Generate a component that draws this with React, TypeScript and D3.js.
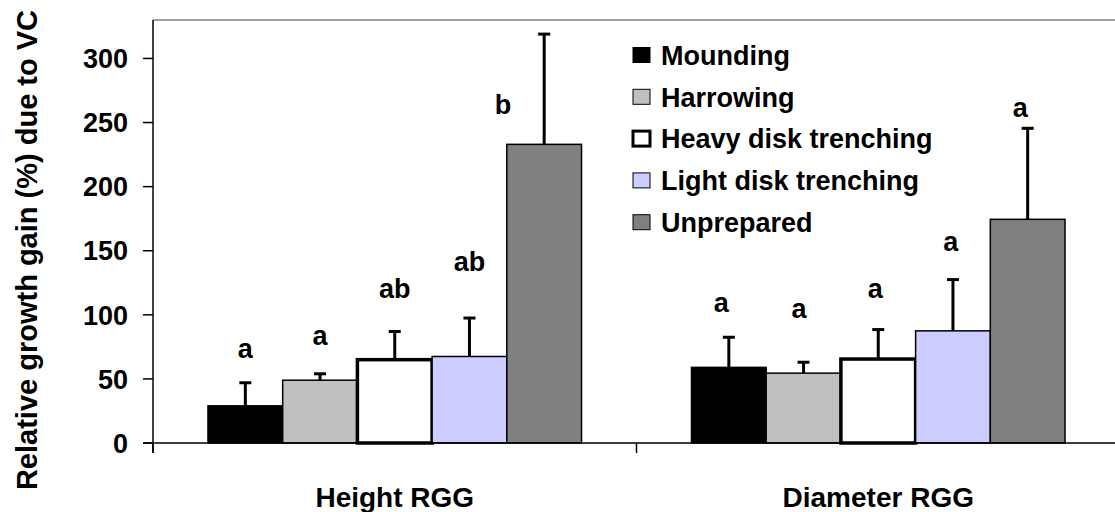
import { useEffect, useRef } from "react";
import { select, scaleBand, scaleLinear } from "d3";

const categories = ["Height RGG", "Diameter RGG"];
const treatments = [
  "Mounding",
  "Harrowing",
  "Heavy disk trenching",
  "Light disk trenching",
  "Unprepared",
];
const heightMeans = [29, 49, 65, 67.5, 233];
const heightErr = [18, 5, 22, 30, 86];
const diameterMeans = [59, 54.5, 65.5, 87.5, 174.5];
const diameterErr = [23.5, 8.5, 23, 40, 71];
const heightLetters = ["a", "a", "ab", "ab", "b"];
const diameterLetters = ["a", "a", "a", "a", "a"];
// value level where each letter sits
const heightLetterAt = [74, 84, 121, 142, 264];
const diameterLetterAt = [110, 105, 121, 157, 262];
const yTicks = [0, 50, 100, 150, 200, 250, 300];

const fills = ["#000000", "#C0C0C0", "#FFFFFF", "#CCCCFF", "#808080"];
const strokeW = [1.5, 1.5, 3.5, 1.5, 1.5];

const FONT = "'Liberation Sans', Arial, sans-serif";

const draw = (ref: SVGSVGElement) => {
  const W = 1115,
    H = 512;
  const m = { l: 153, t: 20, r: 1120, b: 443 };
  const svg = select(ref);
  svg.selectAll("*").remove();
  svg.attr("width", W).attr("height", H).style("font-family", FONT);

  const y = scaleLinear().domain([0, 330]).range([m.b, m.t]);
  const x0 = scaleBand().domain(categories).range([m.l, m.r]).paddingInner(0);
  const x1 = scaleBand()
    .domain(treatments)
    .range([0, x0.bandwidth()])
    .paddingInner(0)
    .paddingOuter(0.736);

  const groups = [
    { cat: categories[0], means: heightMeans, err: heightErr, letters: heightLetters, at: heightLetterAt, shift: [0, 0, 0, 0, -0.55] },
    { cat: categories[1], means: diameterMeans, err: diameterErr, letters: diameterLetters, at: diameterLetterAt, shift: [-0.1, -0.06, -0.04, -0.03, -0.1] },
  ];

  // plot frame (top edge grey)
  svg
    .append("line")
    .attr("x1", m.l)
    .attr("x2", m.r)
    .attr("y1", m.t)
    .attr("y2", m.t)
    .attr("stroke", "#808080")
    .attr("stroke-width", 1.5);

  groups.forEach((gd) => {
    const g = svg.append("g").attr("transform", `translate(${x0(gd.cat)},0)`);
    const bw = x1.bandwidth();

    g.selectAll("rect")
      .data(treatments)
      .join("rect")
      .attr("x", (d) => x1(d)!)
      .attr("y", (d, i) => y(gd.means[i]))
      .attr("width", bw)
      .attr("height", (d, i) => y(0) - y(gd.means[i]))
      .attr("fill", (d, i) => fills[i])
      .attr("stroke", "#000")
      .attr("stroke-width", (d, i) => strokeW[i]);

    // error bars (upper only)
    g.selectAll("line.err")
      .data(treatments)
      .join("line")
      .attr("class", "err")
      .attr("x1", (d) => x1(d)! + bw / 2)
      .attr("x2", (d) => x1(d)! + bw / 2)
      .attr("y1", (d, i) => y(gd.means[i]))
      .attr("y2", (d, i) => y(gd.means[i] + gd.err[i]))
      .attr("stroke", "#000")
      .attr("stroke-width", 3);
    g.selectAll("line.cap")
      .data(treatments)
      .join("line")
      .attr("class", "cap")
      .attr("x1", (d) => x1(d)! + bw / 2 - 6)
      .attr("x2", (d) => x1(d)! + bw / 2 + 6)
      .attr("y1", (d, i) => y(gd.means[i] + gd.err[i]))
      .attr("y2", (d, i) => y(gd.means[i] + gd.err[i]))
      .attr("stroke", "#000")
      .attr("stroke-width", 3);

    g.selectAll("text.letter")
      .data(treatments)
      .join("text")
      .attr("class", "letter")
      .attr("x", (d, i) => x1(d)! + bw / 2 + gd.shift[i] * bw)
      .attr("y", (d, i) => y(gd.at[i]))
      .attr("dy", "0.36em")
      .attr("text-anchor", "middle")
      .attr("font-size", 27)
      .attr("font-weight", "bold")
      .text((d, i) => gd.letters[i]);
  });

  // axes
  svg
    .append("line")
    .attr("x1", m.l)
    .attr("x2", m.l)
    .attr("y1", m.t)
    .attr("y2", m.b + 10)
    .attr("stroke", "#000")
    .attr("stroke-width", 1.5);
  svg
    .append("line")
    .attr("x1", m.l - 10)
    .attr("x2", m.r)
    .attr("y1", m.b)
    .attr("y2", m.b)
    .attr("stroke", "#000")
    .attr("stroke-width", 1.5);

  const yt = svg.append("g");
  yt.selectAll("line")
    .data(yTicks)
    .join("line")
    .attr("x1", m.l - 10)
    .attr("x2", m.l)
    .attr("y1", (d) => y(d))
    .attr("y2", (d) => y(d))
    .attr("stroke", "#000")
    .attr("stroke-width", 1.5);
  yt.selectAll("text")
    .data(yTicks)
    .join("text")
    .attr("x", 128)
    .attr("y", (d) => y(d))
    .attr("dy", "0.36em")
    .attr("text-anchor", "end")
    .attr("font-size", 27)
    .attr("font-weight", "bold")
    .text((d) => d);

  // category ticks and labels
  const edges = [...categories.map((c) => x0(c)!), m.r];
  svg
    .append("g")
    .selectAll("line")
    .data(edges)
    .join("line")
    .attr("x1", (d) => d)
    .attr("x2", (d) => d)
    .attr("y1", m.b)
    .attr("y2", m.b + 10)
    .attr("stroke", "#000")
    .attr("stroke-width", 1.5);
  svg
    .append("g")
    .selectAll("text")
    .data(categories)
    .join("text")
    .attr("x", (d) => x0(d)! + x0.bandwidth() / 2)
    .attr("y", 507)
    .attr("text-anchor", "middle")
    .attr("font-size", 28)
    .attr("font-weight", "bold")
    .text((d) => d);

  // y title
  svg
    .append("text")
    .attr("transform", `translate(37,250) rotate(-90)`)
    .attr("text-anchor", "middle")
    .attr("font-size", 29)
    .attr("font-weight", "bold")
    .text("Relative growth gain (%) due to VC");

  // legend
  const lg = svg.append("g").attr("transform", "translate(633,55)");
  const row = lg
    .selectAll("g")
    .data(treatments)
    .join("g")
    .attr("transform", (d, i) => `translate(0,${i * 41.8})`);
  row
    .append("rect")
    .attr("x", 0)
    .attr("y", -7.5)
    .attr("width", 17)
    .attr("height", 15)
    .attr("fill", (d, i) => fills[i])
    .attr("stroke", "#000")
    .attr("stroke-width", (d, i) => (i === 2 ? 3 : 1));
  row
    .append("text")
    .attr("x", 28)
    .attr("dy", "0.36em")
    .attr("font-size", 27)
    .attr("font-weight", "bold")
    .text((d) => d);
};

export default function App() {
  const ref = useRef<SVGSVGElement>(null);
  useEffect(() => {
    if (ref.current) draw(ref.current);
  }, []);
  return (
    <svg
      ref={ref}
      style={{ position: "absolute", left: 0, top: 0, background: "#fff" }}
    />
  );
}
